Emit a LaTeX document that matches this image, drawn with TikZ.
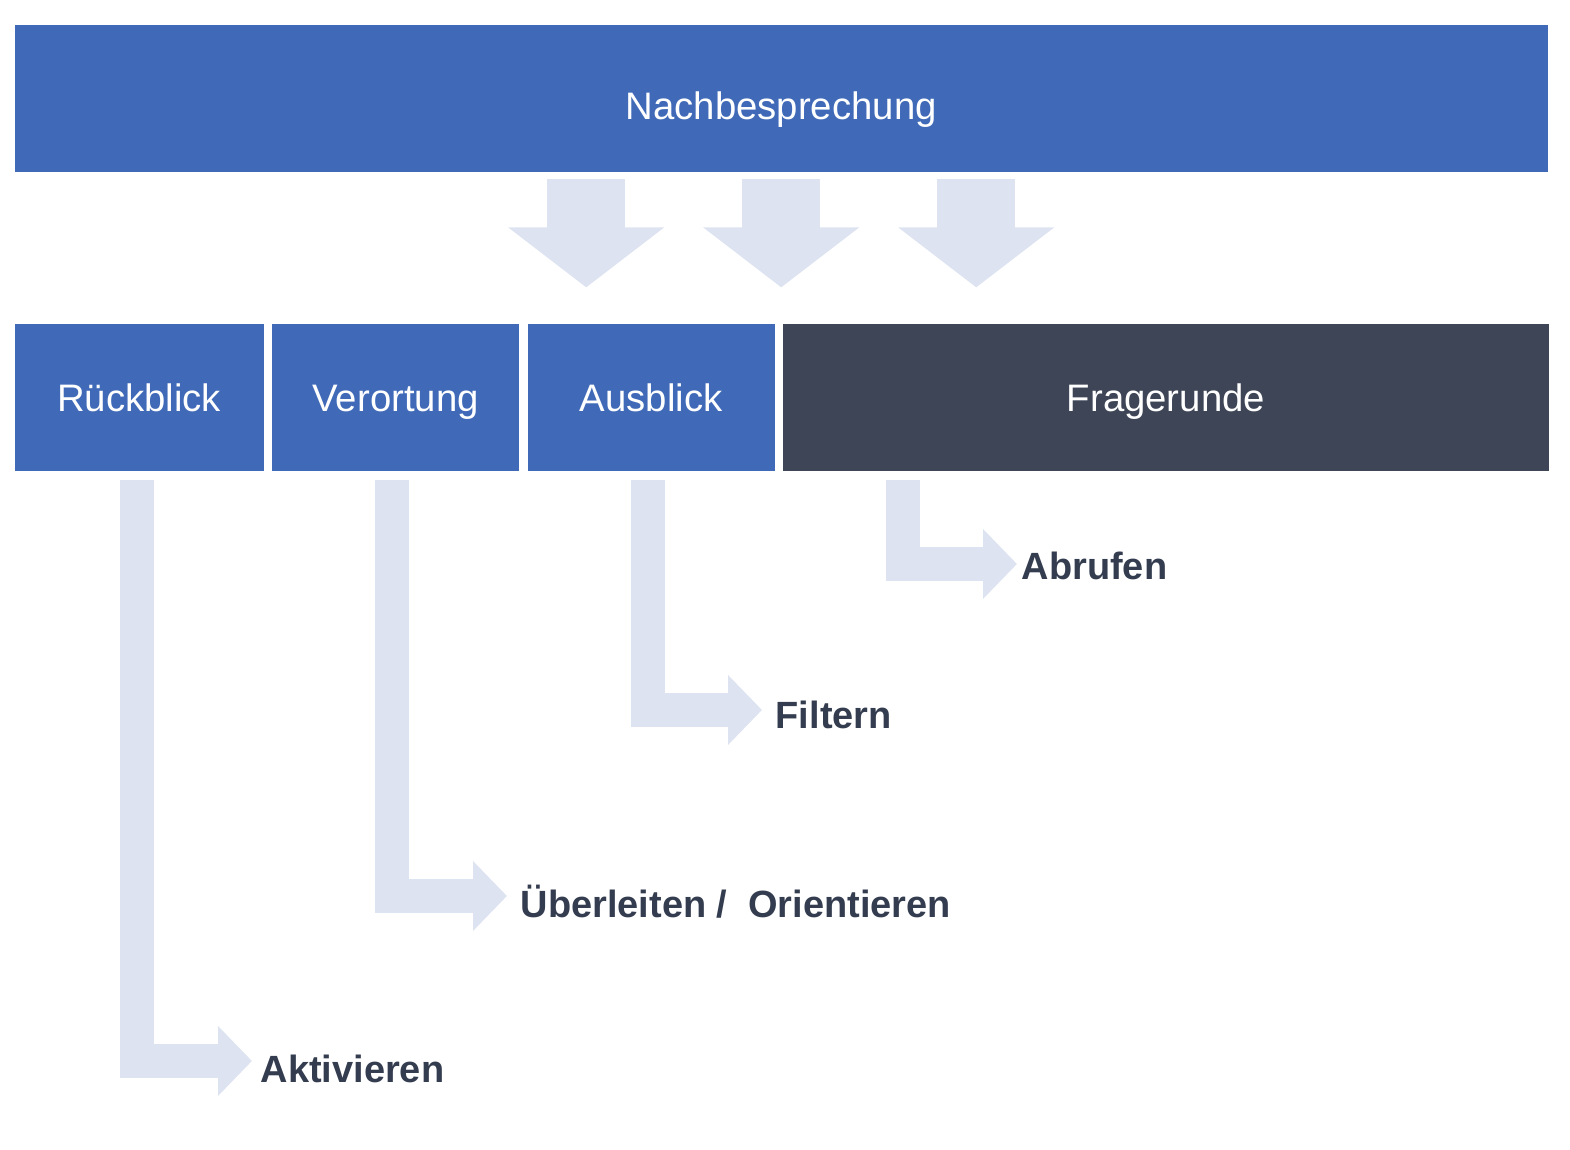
\documentclass[tikz,border=0pt]{standalone}
\usepackage{fontspec}
\setmainfont{Liberation Sans}
\usetikzlibrary{arrows.meta,positioning,calc}
\definecolor{phaseblue}{HTML}{406AB8}
\definecolor{phasedark}{HTML}{3D4556}
\definecolor{arrowfill}{HTML}{DDE3F1}
\definecolor{labelink}{HTML}{343D4F}
\tikzset{
  phasebox/.style={fill=phaseblue,draw=none,text=white,align=center,inner sep=0pt,minimum height=1.47cm,text height=2.75mm,text depth=0pt,font=\fontsize{10.9}{13}\selectfont},
  darkbox/.style={phasebox,fill=phasedark},
  steplabel/.style={text=labelink,inner sep=0.8mm,anchor=west,font=\fontsize{10.8}{13}\selectfont\bfseries},
  downflow/.style={-{Triangle[length=6mm,width=15.3mm]},line width=7.8mm,draw=arrowfill},
  elbowflow/.style={-{Triangle[length=3.4mm,width=6.8mm]},line width=3.4mm,draw=arrowfill,line join=miter}
}

\begin{document}
\begin{tikzpicture}[node distance=1.51cm and 0.07cm]
  \useasboundingbox (0,0) rectangle (15.7,-11.5);
  \node[phasebox,minimum width=15.33cm,text height=4.2mm,anchor=north west] (nach) at (0.14,-0.24) {Nachbesprechung};
  \node[phasebox,minimum width=2.49cm,below right=1.51cm and 0cm of nach.south west] (rueck) {Rückblick};
  \node[phasebox,minimum width=2.47cm,right=of rueck] (verort) {Verortung};
  \node[phasebox,minimum width=2.47cm,right=of verort] (ausblick) {Ausblick};
  \node[darkbox,minimum width=7.66cm,right=of ausblick] (frage) {Fragerunde};
  \node[steplabel] (aktiv) at (2.52,-10.69) {Aktivieren};
  \node[steplabel,inner xsep=1.3mm] (ueber) at (5.07,-9.02) {Überleiten /\hspace{0.55em}Orientieren};
  \node[steplabel,inner xsep=1.3mm] (filtern) at (7.62,-7.15) {Filtern};
  \node[steplabel,inner xsep=0.4mm] (abrufen) at (10.17,-5.66) {Abrufen};
  \foreach \dx in {-1.95,0,1.95}
    \draw[downflow] ([xshift=\dx cm,yshift=-0.07cm]nach.south) -- ++(0,-1.08);
  \draw[elbowflow] ([xshift=-0.025cm,yshift=-0.08cm]rueck.south) |- ([yshift=0.08cm]aktiv.west);
  \draw[elbowflow] ([xshift=-0.035cm,yshift=-0.08cm]verort.south) |- ([yshift=0.06cm]ueber.west);
  \draw[elbowflow] ([xshift=-0.035cm,yshift=-0.08cm]ausblick.south) |- ([yshift=0.05cm]filtern.west);
  \draw[elbowflow] ([xshift=1.21cm,yshift=-0.08cm]frage.south west) |- ([yshift=0.02cm]abrufen.west);
\end{tikzpicture}
\end{document}
